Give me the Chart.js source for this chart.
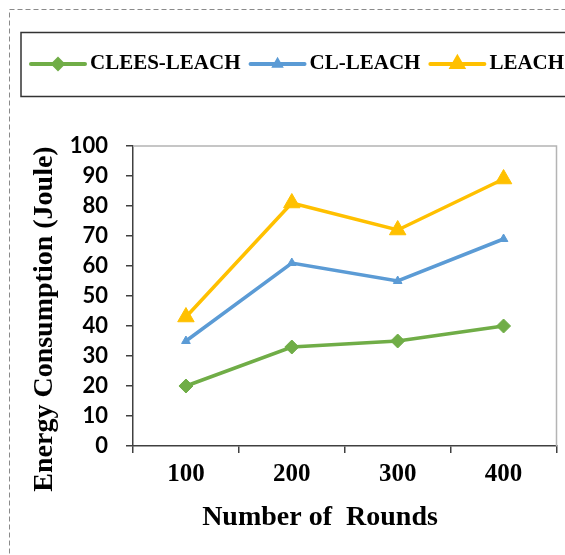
<!DOCTYPE html>
<html>
<head>
<meta charset="utf-8">
<script src="https://cdn.jsdelivr.net/npm/chart.js@4.4.1/dist/chart.umd.min.js"></script>
<style>
  html, body { margin: 0; padding: 0; background: #fff; overflow: hidden; }
  #wrap { width: 565px; height: 555px; position: relative; overflow: hidden; }
</style>
</head>
<body>
<!-- canvas is 2px wider than the page: the line points' overflow padding otherwise pulls the plot edge in -->
<div id="wrap"><canvas id="chart" width="567" height="555"></canvas></div>
<script>
// Data
const rounds = ['100', '200', '300', '400'];
const cleesLeach = [20, 33, 35, 40];
const clLeach = [35, 61, 55, 69];
const leach = [43, 81, 72, 89];
const seriesNames = ['CLEES-LEACH', 'CL-LEACH', 'LEACH'];

const xTitle = 'Number of  Rounds';
const yTitle = 'Energy Consumption (Joule)';

const serif = '"Liberation Serif", "Times New Roman", serif';

// frame, legend and axis titles drawn on the canvas
const decorPlugin = {
    id: 'decor',
    beforeDraw(chart) {
        const ctx = chart.ctx;
        ctx.save();
        ctx.strokeStyle = '#8a8a8a';
        ctx.lineWidth = 1;
        ctx.setLineDash([5, 3]);
        ctx.strokeRect(9.5, 9.5, 700, 700);
        ctx.restore();
    },
    afterDatasetsDraw(chart) {
        const ctx = chart.ctx;
        const area = chart.chartArea;
        ctx.save();
        // light plot border on top and right
        ctx.strokeStyle = '#b4b4b4';
        ctx.lineWidth = 1.5;
        ctx.beginPath();
        ctx.moveTo(area.left, area.top);
        ctx.lineTo(area.right, area.top);
        ctx.lineTo(area.right, area.bottom);
        ctx.stroke();
        ctx.restore();
    },
    afterDraw(chart) {
        const ctx = chart.ctx;
        ctx.save();

        // legend box
        ctx.strokeStyle = '#333';
        ctx.lineWidth = 1.5;
        ctx.strokeRect(21, 32.5, 700, 64);

        ctx.font = 'bold 21px ' + serif;
        ctx.textBaseline = 'middle';
        ctx.textAlign = 'left';
        let x = 31;
        const y = 64;
        chart.data.datasets.forEach(ds => {
            ctx.strokeStyle = ds.borderColor;
            ctx.lineWidth = 4;
            ctx.lineCap = 'round';
            ctx.beginPath();
            ctx.moveTo(x, y);
            ctx.lineTo(x + 54, y);
            ctx.stroke();
            ctx.fillStyle = ds.borderColor;
            Chart.helpers.drawPoint(ctx, {
                pointStyle: ds.pointStyle,
                radius: ds.pointRadius * 0.65,
                borderWidth: 1,
                rotation: 0
            }, x + 27, y);
            ctx.fillStyle = '#000';
            ctx.fillText(ds.label, x + 59, y);
            x += 59 + ctx.measureText(ds.label).width + 10;
        });

        // axis titles
        ctx.fillStyle = '#000';
        ctx.font = 'bold 28px ' + serif;
        ctx.textAlign = 'center';
        ctx.fillText(xTitle, 320, 518);
        ctx.translate(45, 319);
        ctx.rotate(-Math.PI / 2);
        ctx.fillText(yTitle, 0, 0);
        ctx.restore();
    }
};

const ctx = document.getElementById('chart').getContext('2d');
new Chart(ctx, {
    type: 'line',
    data: {
        labels: rounds,
        datasets: [
            {
                label: seriesNames[0],
                data: cleesLeach,
                borderColor: '#70AD47',
                backgroundColor: '#70AD47',
                pointStyle: 'rectRot',
                pointRadius: 7
            },
            {
                label: seriesNames[1],
                data: clLeach,
                borderColor: '#5B9BD5',
                backgroundColor: '#5B9BD5',
                pointStyle: 'triangle',
                pointRadius: 5
            },
            {
                label: seriesNames[2],
                data: leach,
                borderColor: '#FFC000',
                backgroundColor: '#FFC000',
                pointStyle: 'triangle',
                pointRadius: 9.5
            }
        ]
    },
    options: {
        responsive: false,
        animation: false,
        layout: { padding: { left: 0, right: 8, top: 146, bottom: 0 } },
        elements: {
            line: { borderWidth: 3.5, tension: 0 },
            point: { borderWidth: 1 }
        },
        plugins: {
            legend: { display: false },
            tooltip: { enabled: false }
        },
        scales: {
            x: {
                offset: true,
                afterFit: s => { s.height = 109; },
                grid: {
                    offset: true,
                    drawOnChartArea: false,
                    drawTicks: true,
                    tickLength: 7,
                    color: '#404040',
                    lineWidth: 1.5
                },
                border: { color: '#404040', width: 1.5 },
                ticks: {
                    color: '#000',
                    padding: 7,
                    font: { family: serif, weight: 'bold', size: 25 }
                }
            },
            y: {
                min: 0,
                max: 100,
                afterFit: s => { s.width = 133; },
                grid: {
                    drawOnChartArea: false,
                    drawTicks: true,
                    tickLength: 7,
                    color: '#404040',
                    lineWidth: 1.5
                },
                border: { color: '#404040', width: 1.5 },
                ticks: {
                    stepSize: 10,
                    color: '#000',
                    padding: 18,
                    font: { family: 'Lato', weight: 'bold', size: 22 }
                }
            }
        }
    },
    plugins: [decorPlugin]
});
</script>
</body>
</html>
